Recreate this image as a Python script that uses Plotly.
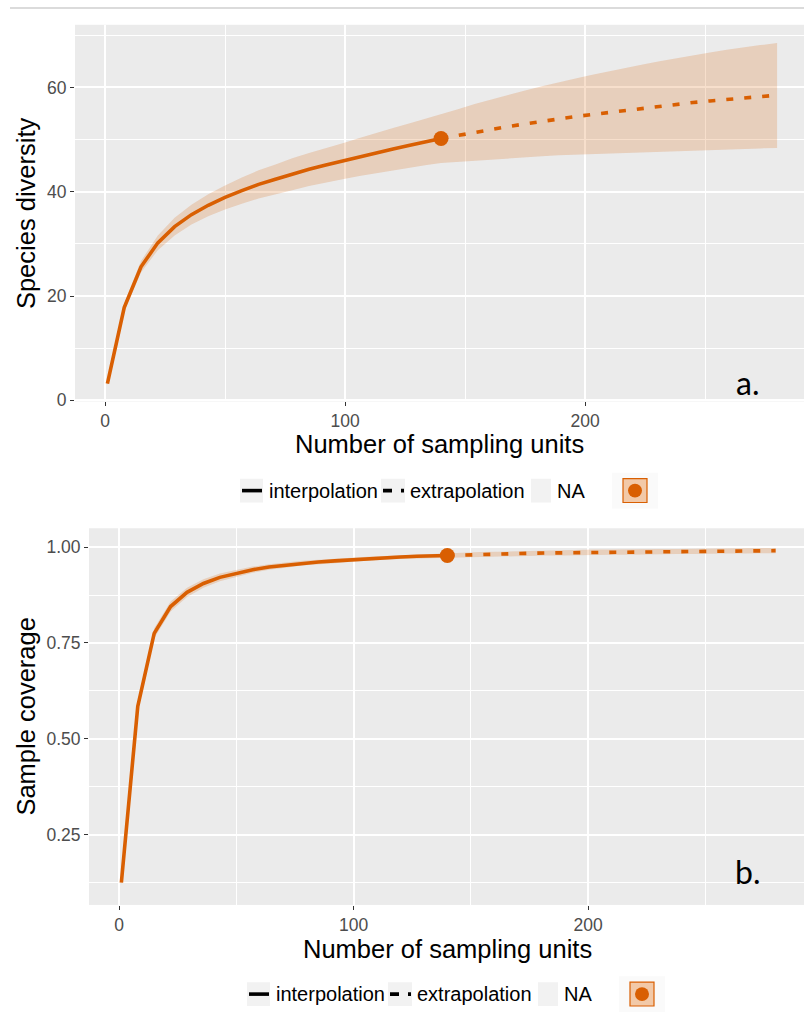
import plotly.graph_objects as go

# ---- data: sample-size-based rarefaction / extrapolation (panel a) ----
t_interp = [1, 8, 15, 22, 29, 36, 43, 50, 57, 64, 71, 78, 85, 92, 99, 106, 113, 120, 127, 134, 140]
t_extrap = [140, 147, 154, 161, 168, 175, 182, 189, 196, 203, 210, 217, 224, 231, 238, 245, 252, 259, 266, 273, 280]

div_interp = [3.2, 17.8, 25.6, 30.2, 33.3, 35.6, 37.4, 38.9, 40.2, 41.4, 42.4, 43.4, 44.3, 45.1, 45.9,
              46.7, 47.5, 48.2, 48.9, 49.6, 50.2]
div_extrap = [50.2, 50.8, 51.4, 52.0, 52.5, 53.0, 53.5, 53.9, 54.4, 54.8, 55.2, 55.6, 56.0, 56.4, 56.7,
              57.1, 57.4, 57.7, 58.0, 58.3, 58.5]
div_lo = [2.9, 17.0, 24.5, 28.8, 31.6, 33.7, 35.3, 36.6, 37.7, 38.7, 39.5, 40.3, 41.1, 41.8, 42.4,
          43.0, 43.6, 44.1, 44.6, 45.1, 45.5,
          45.8, 46.0, 46.2, 46.4, 46.6, 46.8, 47.0, 47.1, 47.2, 47.4, 47.5, 47.6, 47.7, 47.8,
          47.9, 48.0, 48.1, 48.2, 48.3, 48.4]
div_hi = [3.5, 18.6, 26.7, 31.6, 35.0, 37.5, 39.5, 41.2, 42.7, 44.1, 45.2, 46.4, 47.4, 48.3, 49.3,
          50.3, 51.3, 52.2, 53.1, 54.0, 54.8,
          55.8, 56.8, 57.7, 58.6, 59.4, 60.2, 61.0, 61.7, 62.4, 63.1, 63.8, 64.4, 65.0, 65.6,
          66.2, 66.7, 67.2, 67.7, 68.1, 68.5]

# ---- data: sample coverage (panel b) ----
cov_interp = [0.125, 0.585, 0.775, 0.845, 0.882, 0.905, 0.921, 0.932, 0.941, 0.948, 0.953, 0.958,
              0.961, 0.964, 0.967, 0.970, 0.972, 0.974, 0.976, 0.977, 0.978]
cov_extrap = [0.978, 0.9795, 0.981, 0.982, 0.983, 0.9838, 0.9845, 0.985, 0.9857, 0.9863, 0.9868,
              0.9873, 0.9878, 0.9882, 0.9886, 0.989, 0.9893, 0.9896, 0.990, 0.9903, 0.9906]
cov_lo = [0.118, 0.572, 0.762, 0.832, 0.870, 0.894, 0.911, 0.923, 0.933, 0.941, 0.946, 0.952,
          0.955, 0.958, 0.962, 0.965, 0.967, 0.969, 0.971, 0.972, 0.973,
          0.974, 0.975, 0.976, 0.977, 0.977, 0.978, 0.978, 0.979, 0.979, 0.980, 0.980, 0.981,
          0.981, 0.982, 0.982, 0.982, 0.983, 0.983, 0.983, 0.984]
cov_hi = [0.132, 0.598, 0.788, 0.858, 0.894, 0.916, 0.931, 0.941, 0.949, 0.955, 0.960, 0.964,
          0.967, 0.970, 0.972, 0.975, 0.977, 0.979, 0.981, 0.982, 0.983,
          0.985, 0.987, 0.988, 0.989, 0.9905, 0.991, 0.992, 0.9925, 0.9935, 0.9935, 0.9945, 0.9945,
          0.995, 0.995, 0.996, 0.9965, 0.9965, 0.997, 0.9975, 0.9975]

x_ticks = [0, 100, 200]
div_ticks = [0, 20, 40, 60]
cov_ticks = [0.25, 0.50, 0.75, 1.00]
cov_ticktext = ["0.25", "0.50", "0.75", "1.00"]
legend_labels = ["interpolation", "extrapolation", "NA"]

# ---- styling ----
W, H = 804, 1015
ORANGE = "#D95F02"
BAND = "rgba(217,95,2,0.2)"
PANEL = "#EBEBEB"
FONT = "Liberation Sans, Arial, Helvetica, sans-serif"
LW = 3.6


def px(x):
    return x / W


def py(y):
    return 1 - y / H


fig = go.Figure()

t_all = t_interp + t_extrap[1:]


def add_panel(xa, ya, interp, extrap, lo, hi):
    fig.add_trace(go.Scatter(
        x=t_all + t_all[::-1], y=hi + lo[::-1], fill="toself", fillcolor=BAND,
        line=dict(width=0), mode="lines", hoverinfo="skip", showlegend=False,
        xaxis=xa, yaxis=ya))
    fig.add_trace(go.Scatter(
        x=t_interp, y=interp, mode="lines", line=dict(color=ORANGE, width=LW),
        showlegend=False, xaxis=xa, yaxis=ya))
    fig.add_trace(go.Scatter(
        x=t_extrap, y=extrap, mode="lines",
        line=dict(color=ORANGE, width=LW, dash="7px,11px"),
        showlegend=False, xaxis=xa, yaxis=ya))
    fig.add_trace(go.Scatter(
        x=[t_interp[-1]], y=[interp[-1]], mode="markers",
        marker=dict(color=ORANGE, size=15), showlegend=False, xaxis=xa, yaxis=ya))


add_panel("x", "y", div_interp, div_extrap, div_lo, div_hi)
add_panel("x2", "y2", cov_interp, cov_extrap, cov_lo, cov_hi)

axis_common = dict(
    showline=False, zeroline=False, ticks="outside", ticklen=4, tickwidth=1,
    tickcolor="#333333", tickfont=dict(family=FONT, size=17.5, color="#4D4D4D"),
    showgrid=True, gridcolor="white", gridwidth=1.6,
)


def minor_grid(vals):
    return dict(tickvals=vals, showgrid=True, gridcolor="white", gridwidth=0.8, ticks="")


fig.update_layout(
    width=W, height=H, margin=dict(l=0, r=0, t=0, b=0),
    paper_bgcolor="white", plot_bgcolor=PANEL, showlegend=False,
    xaxis=dict(domain=[px(75), 1.0], range=[-12.5, 291.2], tickvals=x_ticks, anchor="y",
               minor=minor_grid([50, 150, 250]), **axis_common),
    yaxis=dict(domain=[py(405), py(25)], range=[-0.2, 72], tickvals=div_ticks, anchor="x",
               minor=minor_grid([10, 30, 50, 70]), **axis_common),
    xaxis2=dict(domain=[px(89), 1.0], range=[-12.8, 292.1], tickvals=x_ticks, anchor="y2",
                minor=minor_grid([50, 150, 250]), **axis_common),
    yaxis2=dict(domain=[py(913), py(533)], range=[0.067, 1.049], tickvals=cov_ticks,
                ticktext=cov_ticktext, anchor="x2",
                minor=minor_grid([0.125, 0.375, 0.625, 0.875]), **axis_common),
)

shapes = []
annotations = []

# thin rule along the top
shapes.append(dict(type="line", xref="paper", yref="paper", x0=px(10), x1=1, y0=py(8), y1=py(8),
                   line=dict(color="#CFCFCF", width=1.5)))

# axis titles and panel tags
title_font = dict(family=FONT, size=25.5, color="black")
tag_font = dict(family="Lato", size=32, color="black")
annotations += [
    dict(text="Number of sampling units", x=px(440), y=py(448), xref="paper", yref="paper",
         showarrow=False, font=title_font, xanchor="center", yanchor="middle"),
    dict(text="Number of sampling units", x=px(447), y=py(957), xref="paper", yref="paper",
         showarrow=False, font=title_font, xanchor="center", yanchor="middle"),
    dict(text="Species diversity", x=px(26), y=py(215), xref="paper", yref="paper", textangle=-90,
         showarrow=False, font=title_font, xanchor="center", yanchor="middle"),
    dict(text="Sample coverage", x=px(26), y=py(723), xref="paper", yref="paper", textangle=-90,
         showarrow=False, font=title_font, xanchor="center", yanchor="middle"),
    dict(text="a.", x=px(747), y=py(386), xref="paper", yref="paper", showarrow=False,
         font=tag_font, xanchor="center", yanchor="middle"),
    dict(text="b.", x=px(747), y=py(879), xref="paper", yref="paper", showarrow=False,
         font=tag_font, xanchor="center", yanchor="middle"),
]


def add_legend(cy, dx):
    key_bg = "#F2F2F2"
    lab_font = dict(family=FONT, size=20, color="black")
    # solid-line key
    shapes.append(dict(type="rect", xref="paper", yref="paper", x0=px(240 + dx), x1=px(263 + dx),
                       y0=py(cy + 12), y1=py(cy - 12), fillcolor=key_bg, line=dict(width=0), layer="below"))
    shapes.append(dict(type="line", xref="paper", yref="paper", x0=px(242 + dx), x1=px(262 + dx),
                       y0=py(cy), y1=py(cy), line=dict(color="black", width=LW)))
    annotations.append(dict(text=legend_labels[0], x=px(267 + dx), y=py(cy), xref="paper", yref="paper",
                            showarrow=False, font=lab_font, xanchor="left", yanchor="middle"))
    # dashed-line key
    shapes.append(dict(type="rect", xref="paper", yref="paper", x0=px(381 + dx), x1=px(405 + dx),
                       y0=py(cy + 12), y1=py(cy - 12), fillcolor=key_bg, line=dict(width=0), layer="below"))
    shapes.append(dict(type="line", xref="paper", yref="paper", x0=px(383 + dx), x1=px(404 + dx),
                       y0=py(cy), y1=py(cy), line=dict(color="black", width=LW, dash="9px,9px")))
    annotations.append(dict(text=legend_labels[1], x=px(408 + dx), y=py(cy), xref="paper", yref="paper",
                            showarrow=False, font=lab_font, xanchor="left", yanchor="middle"))
    # empty NA key
    shapes.append(dict(type="rect", xref="paper", yref="paper", x0=px(531 + dx), x1=px(551 + dx),
                       y0=py(cy + 12), y1=py(cy - 12), fillcolor=key_bg, line=dict(width=0), layer="below"))
    annotations.append(dict(text=legend_labels[2], x=px(555 + dx), y=py(cy), xref="paper", yref="paper",
                            showarrow=False, font=lab_font, xanchor="left", yanchor="middle"))
    # point + band key
    shapes.append(dict(type="rect", xref="paper", yref="paper", x0=px(612 + dx), x1=px(658 + dx),
                       y0=py(cy + 18), y1=py(cy - 18), fillcolor="#FAFAFA", line=dict(width=0), layer="below"))
    shapes.append(dict(type="rect", xref="paper", yref="paper", x0=px(623 + dx), x1=px(647 + dx),
                       y0=py(cy + 12), y1=py(cy - 12), fillcolor="#F2C9A8",
                       line=dict(color=ORANGE, width=1.2)))
    shapes.append(dict(type="circle", xref="paper", yref="paper", x0=px(628 + dx), x1=px(642 + dx),
                       y0=py(cy + 7), y1=py(cy - 7), fillcolor=ORANGE, line=dict(width=0)))


add_legend(495, 0)
add_legend(1003, 7)

fig.update_layout(shapes=shapes, annotations=annotations)
fig.write_html("out.html")
